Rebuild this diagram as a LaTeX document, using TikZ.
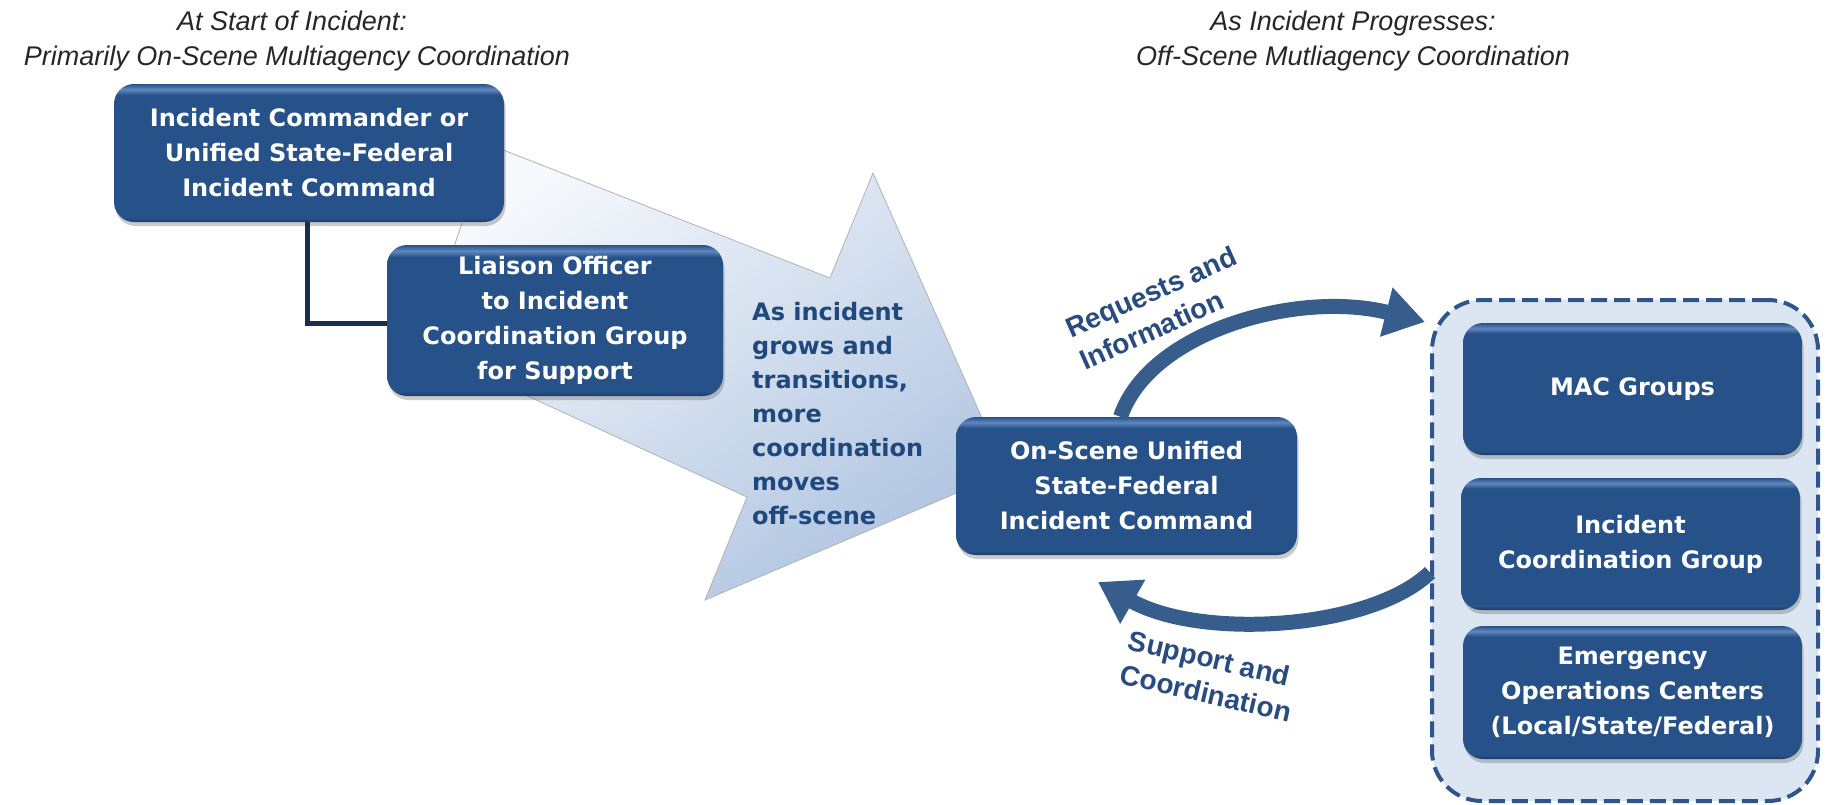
\documentclass[tikz,border=0pt]{standalone}
\usepackage{fontspec}
\setmainfont{DejaVu Sans}
\newfontfamily\lab{Liberation Sans}
\usetikzlibrary{arrows.meta,shadows}
\definecolor{boxblue}{RGB}{39,81,137}
\definecolor{boxhi}{RGB}{96,136,190}
\definecolor{boxbot}{RGB}{28,60,104}
\definecolor{navy}{RGB}{25,45,80}
\definecolor{arrowblue}{RGB}{55,93,141}
\definecolor{labblue}{RGB}{40,76,128}
\definecolor{txtblue}{RGB}{31,72,124}
\definecolor{contfill}{RGB}{220,230,242}
\definecolor{contline}{RGB}{47,85,140}
\definecolor{arrlight}{RGB}{246,248,252}
\definecolor{arrdark}{RGB}{176,197,225}
\pgfdeclareverticalshading{boxshade}{100bp}{color(0bp)=(boxbot); color(25bp)=(boxbot); color(26.5bp)=(boxblue); color(71bp)=(boxblue); color(73bp)=(boxhi); color(75bp)=(boxblue); color(100bp)=(boxblue)}
\tikzset{
  bluebox/.style={rectangle, rounded corners=20pt, shade, shading=boxshade,
    drop shadow={shadow xshift=1.5pt, shadow yshift=-4pt, opacity=0.35, fill=black!60},
    text=white, font=\bfseries\fontsize{24}{35}\selectfont, align=center, inner sep=0pt},
  ttl/.style={font=\lab\itshape\fontsize{27}{35}\selectfont, text=black!85, inner sep=0pt, anchor=base},
  lbl/.style={font=\lab\bfseries\fontsize{28}{35}\selectfont, text=labblue, align=left, inner sep=0pt},
  growtxt/.style={font=\bfseries\fontsize{24}{34}\selectfont, text=txtblue, align=left, inner sep=0pt},
  flow/.style={line width=15pt, draw=arrowblue, -{Triangle[width=48pt,length=40pt]}},
  cont/.style={rectangle, rounded corners=50pt, fill=contfill, draw=contline, line width=4pt,
    dash pattern=on 16pt off 7pt, inner sep=0pt}
}
\begin{document}
\begin{tikzpicture}[x=1pt,y=-1pt]
\useasboundingbox (0,0) rectangle (1829,804);
% titles
\node[ttl] (t1) at (292,30) {At Start of Incident:};
\node[ttl] (t2) at (297,65) {Primarily On-Scene Multiagency Coordination};
\node[ttl] (t3) at (1353,30) {As Incident Progresses:};
\node[ttl] (t4) at (1353,65) {Off-Scene Mutliagency Coordination};
% big transition arrow
\shade[top color=arrlight, bottom color=arrdark, shading angle=35, draw=black!30, line width=0.8pt]
  (488,144) -- (830,278) -- (873,173) -- (1006,472) -- (705,600) -- (747,497) -- (421,347) -- cycle;
% left boxes
\node[bluebox, minimum width=390pt, minimum height=138pt] (ic) at (309,153)
  {Incident Commander or\\Unified State-Federal\\Incident Command};
\node[bluebox, minimum width=336pt, minimum height=151pt] (lo) at (555,320.5)
  {Liaison Officer\\to Incident\\Coordination Group\\for Support};
\draw[navy, line width=5pt] ([xshift=-2pt]ic.south) |- ([yshift=-3pt]lo.west);
% transition text
\node[growtxt, anchor=west] (grow) at (752,414)
  {As incident\\grows and\\transitions,\\more\\coordination\\moves\\off-scene};
% right container
\node[cont, minimum width=386pt, minimum height=501pt] (cont) at (1625,550.5) {};
\node[bluebox, minimum width=339pt, minimum height=132pt] (mac) at (1632.5,389) {MAC Groups};
\node[bluebox, minimum width=339pt, minimum height=132pt] (icg) at (1630.5,544) {Incident\\Coordination Group};
\node[bluebox, minimum width=339pt, minimum height=133pt] (eoc) at (1632.5,692.5) {Emergency\\Operations Centers\\(Local/State/Federal)};
% on-scene box
\node[bluebox, minimum width=341pt, minimum height=138pt] (os) at (1126.5,486)
  {On-Scene Unified\\State-Federal\\Incident Command};
% curved arrows
\coordinate (reqtip) at (1425,322);
\coordinate (suptip) at (1098,582);
\draw[flow] ([xshift=-6pt]os.north) .. controls (1150,330) and (1300,290) .. (reqtip);
\draw[flow] ([yshift=-22pt]cont.west) .. controls (1370,630) and (1200,640) .. (suptip);
\node[lbl, rotate=24] (req) at (1158,308) {Requests and\\Information};
\node[lbl, rotate=-13] (sup) at (1210,676) {Support and\\Coordination};
\end{tikzpicture}
\end{document}
